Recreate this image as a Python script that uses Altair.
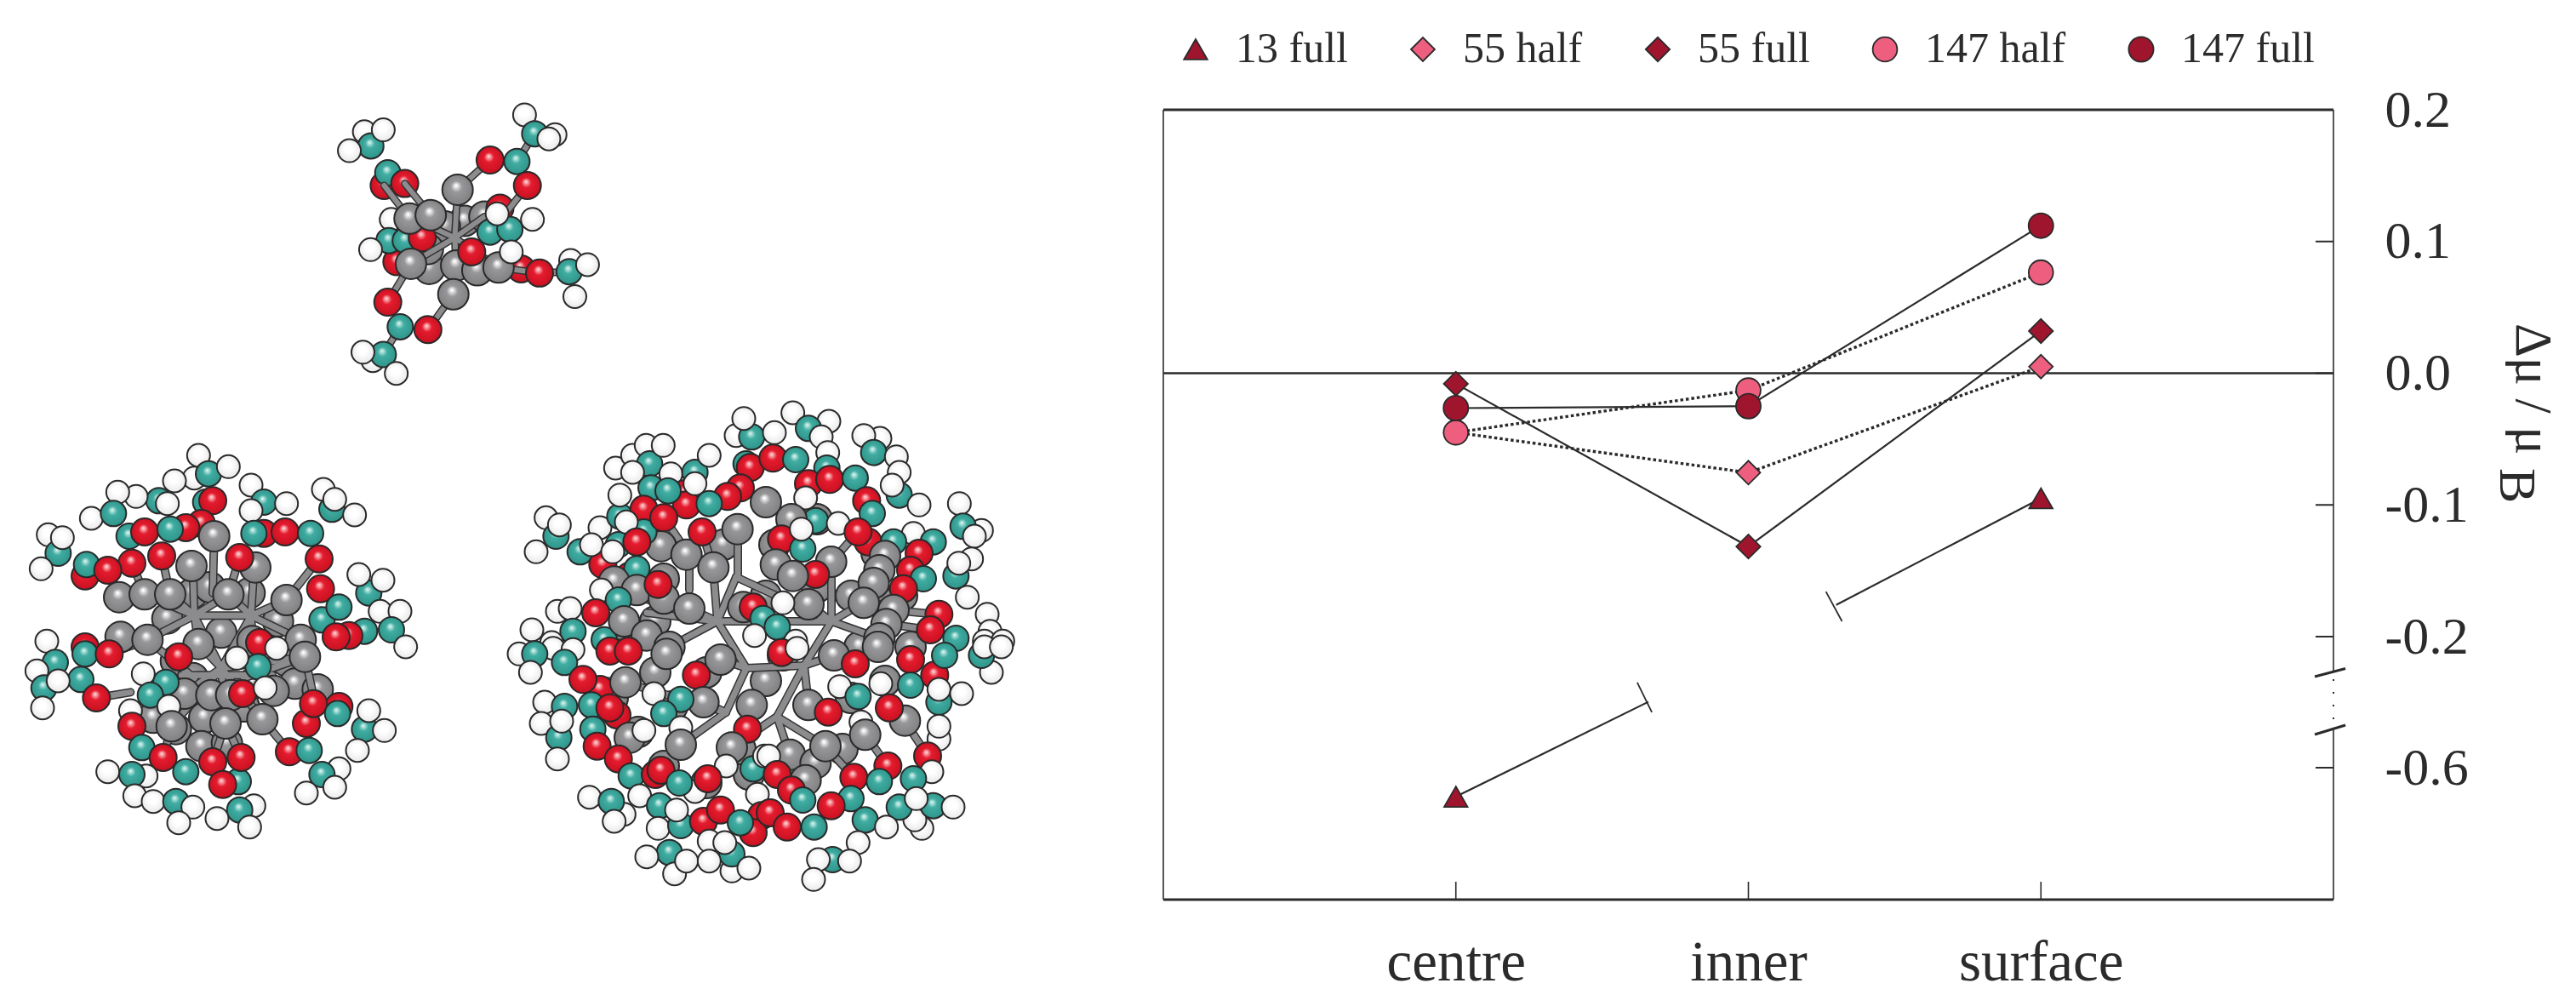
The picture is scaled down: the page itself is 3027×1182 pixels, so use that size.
import altair as alt
import pandas as pd

# ---------- chart values ----------
SERIES = ["13 full", "55 half", "55 full", "147 half", "147 full"]
SERIES_FILL = ["#A0152E", "#EE5F7F", "#A0152E", "#EE5F7F", "#A0152E"]
SERIES_SHAPE = ["triangle-up", "diamond", "diamond", "circle", "circle"]
SERIES_SIZE = [760, 850, 850, 580, 580]
SERIES_EDGE = ["#2a2a2a"] * 5

P_SERIES = ["13 full", "13 full", "55 half", "55 half", "55 half", "55 full", "55 full", "55 full",
            "147 half", "147 half", "147 half", "147 full", "147 full", "147 full"]
P_X = [1, 3, 1, 2, 3, 1, 2, 3, 1, 2, 3, 1, 2, 3]
P_Y = [-0.622, -0.095, -0.045, -0.0755, 0.005, -0.008, -0.1316, 0.032,
       -0.045, -0.013, 0.0765, -0.0265, -0.025, 0.112]

BROKEN_A_X = [1, 1.658]
BROKEN_A_Y = [-0.622, -0.399]
BROKEN_B_X = [3, 2.30]
BROKEN_B_Y = [-0.095, -0.1759]
END_TICK_X = [1.62, 2.265]
END_TICK_X2 = [1.67, 2.32]
END_TICK_Y = [-0.340, -0.1658]
END_TICK_Y2 = [-0.431, -0.1884]

X_TICKS = [1, 2, 3]
X_NAMES = ["centre", "inner", "surface"]
Y_LABELS = [-0.6, -0.2, -0.1, 0.0, 0.1, 0.2]
Y_TICKS = [-0.6, -0.2, -0.1, 0.0, 0.1]

# ---------- molecule values (back to front) ----------
A_BACK = [("H",145,105),("T",168,155),("H",92,172),("H",212,98),("R",215,295),("T",228,250),("R",288,288),
 ("H",240,415),("G",500,420),("G",430,440),("G",570,405),("R",625,375),("G",375,590),("R",260,565),("G",370,520),
 ("T",232,490),("T",290,490),("H",167,522),("R",700,590),("R",350,480)]
A_FRONT = [("G",305,412),("G",380,400),("G",475,310),("R",590,205),("H",712,45),("T",748,112),("H",820,115),("H",798,130),("T",685,210),
 ("R",722,295),("T",590,460),("T",660,450),("H",615,395),("H",740,415),("G",470,578),("G",545,595),("G",620,585),
 ("G",310,572),("H",875,560),("R",765,605),("T",870,600),("H",935,575),("H",890,688),("R",525,530),("H",665,530),
 ("G",460,680),("R",228,708),("T",272,795),("R",370,805),("H",175,915),("T",212,893),("H",140,885),("H",258,960)]
A_BONDS = [(465,480,475,310),(465,480,310,572),(465,480,380,440),(465,480,570,405),(465,480,470,578),
 (465,480,620,585),(590,205,475,310),(228,708,310,572),(370,805,460,680),(288,288,380,400),(215,295,305,412),
 (722,295,640,400),(765,605,620,585),(590,205,685,210),(870,600,765,605),(685,210,748,112),(272,795,212,893)]

B_CORE = [("G",620,560),("G",820,560),("G",680,540),("G",530,650),("G",920,660),("G",720,700),("G",560,800),("G",620,860),
 ("G",830,880),("G",950,800),("G",980,880),("G",660,1000),("G",800,960),("G",480,1000),("G",650,1100),("G",740,1090),("G",1060,900),("G",560,1040)]
B_ATOMS = [("H",625,155),("H",640,75),("T",675,140),("H",745,115),("T",665,240),("H",555,165),("T",500,235),("H",420,220),
 ("H",355,205),("H",262,297),("T",340,280),("H",530,245),("H",825,180),("T",870,240),("H",950,245),("H",825,270),
 ("H",1080,195),("T",1110,265),("H",1120,230),("H",1190,285),("R",690,235),("R",650,315),("R",595,330),
 ("T",395,360),("R",450,345),("T",540,335),("R",870,350),("T",835,350),("R",945,345),("T",1035,350),
 ("H",110,355),("T",145,420),("H",160,365),("H",85,475),("R",240,500),("T",245,460),("R",405,455),("R",320,480),
 ("G",695,360),("G",615,465),("R",510,430),("G",840,470),("R",785,435),("R",1065,440),
 ("G",360,575),("G",450,565),("G",540,565),("G",745,565),("G",950,585),("R",1070,545),
 ("T",1240,560),("H",1205,495),("H",1290,515),("T",1075,655),("T",1135,610),("H",1280,625),("H",1350,625),
 ("T",1320,690),("H",1370,750),("T",1225,695),("R",1170,710),("R",1125,715),
 ("G",365,715),("G",460,725),("G",640,740),("G",830,730),("G",1000,725),("G",1015,785),
 ("R",240,750),("T",240,775),("R",325,775),("H",105,730),("T",135,805),("H",70,835),("T",95,895),("T",225,865),
 ("H",145,870),("H",90,965),("R",280,930),("G",590,915),("G",685,920),("G",755,920),("G",905,905),
 ("R",855,735),("T",850,820),("H",915,755),("H",775,790),("R",795,915),("H",875,895),
 ("R",570,785),("T",525,875),("H",445,845),("T",470,920),("H",535,960),("H",400,975),
 ("R",1135,960),("R",1020,1020),("R",1045,950),("T",1130,985),("T",1225,1040),("H",1240,975),("H",1295,1045),("H",1200,1115),
 ("G",545,1030),("G",735,1020),("G",865,1005),("R",405,1030),("T",440,1105),("H",455,1205),("H",320,1190),("T",405,1200),("H",415,1275),
 ("T",780,1225),("R",515,1140),("T",595,1190),("R",790,1140),("R",690,1155),("R",725,1235),
 ("H",480,1295),("T",560,1295),("H",620,1315),("H",570,1370),("H",835,1310),("T",785,1325),("H",705,1355),("H",820,1385),
 ("R",960,1120),("T",1030,1115),("H",1135,1180),("T",1075,1200),("H",1020,1265),("H",1120,1245)]
B_BONDS = [(625,640,540,565),(625,640,620,480),(825,640,835,480),(825,640,950,585),(625,640,825,640),(625,640,460,725),
 (825,640,1000,725),(720,825,625,640),(720,825,825,640),(720,825,590,915),(720,825,735,1020),(720,825,1015,785),
 (720,825,865,1005),(695,360,690,560),(1015,785,1040,900),(865,1005,960,1120),(735,1020,790,1140),(735,1020,690,1155),
 (545,1030,515,1140),(280,930,400,910),(325,775,460,725),(510,430,540,565),(785,435,745,565),(625,640,745,565),
 (825,640,745,565),(625,640,640,740),(825,640,830,730),(720,825,640,740),(720,825,830,730),(450,565,625,640),
 (360,575,320,480),(450,565,405,455),(950,585,1065,440),(720,825,545,1030),(1015,785,800,860),(460,725,625,860),(580,850,900,850)]

LARGE_CORE = [("G",780,680),("G",850,640),("G",910,640),("G",960,610),("G",1030,650),("G",1060,700),("G",1070,760),("G",1040,800),
 ("G",1000,820),("G",990,880),("G",940,900),("G",880,910),("G",830,920),("G",780,900),("G",750,860),("G",720,820),("G",740,740),
 ("G",770,790),("G",900,700),("G",920,770),("G",900,800),("G",830,790),("G",790,830),("G",960,690),("G",1010,760),("G",870,880),
 ("G",770,730),("G",900,590),("G",1000,700)]
C_ATOMS = [("H",125,445),("T",160,510),("H",90,565),("H",172,470),("T",245,565),("H",315,480),("T",385,440),("H",385,365),
 ("H",370,270),("H",430,225),("H",478,190),("T",490,255),("H",538,190),("H",430,285),("T",495,340),("H",565,290),
 ("R",615,360),("R",620,400),("T",650,285),("H",700,225),("H",650,325),("H",795,155),("T",850,160),("H",822,95),
 ("T",830,255),("R",845,268),("R",810,340),("T",555,350),("R",470,415),("R",765,370),("T",700,395),
 ("G",530,545),("T",470,495),("T",380,540),("H",408,460),("R",445,530),("R",325,610),("H",285,540),("H",360,565),
 ("G",620,575),("R",540,445),("G",800,485),("R",675,495),("G",715,620),("R",420,650),("T",445,625),
 ("G",365,670),("G",445,700),("G",540,730),("H",320,700),("R",520,680),("T",380,735),("G",630,765),
 ("H",165,775),("H",210,765),("T",220,845),("R",300,780),("T",330,875),("H",145,885),("H",75,840),
 ("G",400,810),("G",480,860),("G",560,900),("G",820,760),("R",855,760),("T",890,800),("H",860,860)]
D_ATOMS = [("H",95,75),("H",222,105),("T",150,130),("H",195,160),("H",30,145),("R",25,235),("T",105,240),("H",218,215),("T",215,270),
 ("H",402,165),("H",345,155),("T",380,215),("H",460,230),("H",470,285),("R",150,325),("R",225,310),("T",315,305),
 ("T",470,365),("H",445,330),("H",540,400),("R",355,385),("T",375,430),("H",140,375),("T",175,455),("H",255,465),
 ("G",90,450),("R",360,530),("R",325,495),("G",230,600),("R",55,520),("T",130,555),("H",125,485),("R",175,645),
 ("G",35,610),("G",95,650),("G",150,750),("H",60,745),("T",40,830),("H",105,880),
 ("H",520,500),("T",450,530),("H",760,490),("H",682,395),("T",695,475),("H",735,510),("T",590,530),("R",540,570),
 ("G",420,580),("G",400,630),("R",510,630),("H",725,590),("T",670,650),("T",555,660),("H",680,605),("H",710,725),
 ("G",380,675),("R",485,695),("G",345,745),("G",450,770),("G",425,820),("G",400,870),("R",610,785),("R",580,840),
 ("H",780,785),("H",790,845),("T",670,870),("H",770,880),("H",835,880)]
E_ATOMS = [("H",30,25),("H",150,5),("H",220,10),("T",85,25),("T",190,55),("H",70,90),("R",315,150),("R",255,115),("G",405,125),
 ("R",350,15),("R",415,15),("G",550,25),("G",740,45),("R",655,100),("H",120,195),("T",190,210),("H",108,270),("T",170,320),
 ("T",285,205),("H",180,262),("H",165,395),("T",290,290),("R",375,240),("R",350,215),("G",420,320),("R",305,350),("R",380,395),
 ("G",680,195),("T",600,185),("H",505,165),("T",540,235),("H",470,295),("H",600,285),("G",850,205),("R",835,290),
 ("G",600,345),("G",780,355),("T",855,430),("H",760,420),("H",895,385),("H",870,520),("T",425,455),("H",278,530),
 ("H",400,590),("T",355,545),("H",365,615),("H",455,525),("R",510,450),("R",530,435),("H",650,510),("T",595,480),("R",695,465),
 ("T",525,560),("H",520,640),("T",600,630),("H",585,575),("T",560,725),("H",480,740),("H",578,800),("H",620,755),
 ("R",680,615),("R",740,575),("R",885,595),("R",855,655),("T",810,620),("H",700,685),("H",780,790),("T",780,730),("H",755,690),("H",700,755),("H",840,780)]
F_ATOMS = [("R",55,20),("H",110,5),("G",240,30),("G",395,0),("R",315,60),("H",260,140),("T",325,175),("H",405,130),
 ("G",150,205),("R",220,230),("H",335,265),("G",490,260),("R",435,215),("R",510,45),("T",510,135),("G",350,310),
 ("G",85,380),("H",10,385),("G",175,410),("G",210,350),("G",140,470),("R",40,450),("R",595,100),("T",610,195),("H",610,150),("H",690,165),
 ("H",795,90),("T",630,30),("T",760,30),("H",770,0),("H",830,0),("H",610,325),("H",610,280),("R",570,385),("R",430,420),
 ("H",585,440),("T",520,465),("R",310,460),("T",400,475),("H",550,640),("H",525,610),("T",590,560),("T",470,565),("H",530,535),("H",660,565),
 ("T",300,535),("T",350,610),("H",425,635),("H",325,690),("R",90,505),("T",130,540),("R",230,560),("R",15,585),("R",75,635),
 ("T",170,635),("T",235,750),("H",295,755),("H",185,750),("H",168,820)]
LARGE_BONDS = [(843,730,810,715),(843,730,838,667),(843,730,787,760),(843,730,877,785),(877,785,853,837),(877,785,945,782),
 (945,782,913,842),(945,782,977,730),(843,730,977,730),(977,730,977,660),(977,730,950,710),(977,730,1015,708),(977,730,1033,750),
 (945,782,980,770),(945,782,950,828),(913,842,970,877),(913,842,860,878),(913,842,928,887),(853,837,800,875),(853,837,827,825),
 (853,837,735,802),(877,785,847,775),(867,622,867,678),(810,652,810,693),(970,877,1003,913),(1017,863,1043,900),(1063,847,1090,888),
 (735,802,685,798),(1015,708,1062,692),(1050,717,1103,722),(1042,733,1093,740),(810,715,773,687),(838,667,825,625),(810,652,780,608),
 (977,660,1008,625),(843,730,865,678),(865,678,977,730),(740,700,810,715),(760,720,843,730),(720,745,787,760)]

PANELS = {"A": (380, 120, 3.012), "B": (20, 510, 3.0), "C": (600, 460, 3.0),
          "D": (900, 460, 3.0), "E": (600, 760, 3.0), "F": (900, 760, 3.0), "P": (0, 0, 1.0)}
ATOM_DIAM = {"G": 36, "R": 32, "T": 30, "H": 27}


def grad(edge, mid, hi):
    return {"gradient": "radial", "x1": 0.45, "y1": 0.36, "r1": 0.02, "x2": 0.5, "y2": 0.5, "r2": 0.56,
            "stops": [{"offset": 0, "color": hi}, {"offset": 0.3, "color": mid}, {"offset": 1, "color": edge}]}


ATOM_FILL = {"G": ("#7d7c7e", "#979698", "#ffffff"), "R": ("#c4101f", "#e41b2e", "#ffd0d0"),
             "T": ("#2c9187", "#40aca1", "#d4f2ee"), "H": ("#e6e6e6", "#ffffff", "#ffffff")}


def atoms(rows, panel):
    ox, oy, k = PANELS[panel]
    out = []
    for t, x, y in rows:
        out.append({"px": ox + x / k, "py": oy + y / k, "fillv": grad(*ATOM_FILL[t]), "s": ATOM_DIAM[t] ** 2})
    return out


def bonds(rows, panel=None):
    ox, oy, k = PANELS[panel] if panel else (0, 0, 1)
    return pd.DataFrame([{"px": ox + a / k, "py": oy + b / k, "px2": ox + c / k, "py2": oy + d / k} for a, b, c, d in rows])


W, H = 3011, 1166
page_x = alt.Scale(domain=[8, 3019], range=[0, W], zero=False, nice=False)
page_y = alt.Scale(domain=[8, 1174], range=[0, H], zero=False, nice=False)
x_sc = alt.Scale(domain=[0, 4], range=[1359, 2734], zero=False, nice=False)
y_sc = alt.Scale(domain=[-0.7, -0.6, -0.2, 0.2], range=[1049, 894, 740, 121], zero=False, nice=False)
FONT = "Liberation Serif"
INK = "#2b2b2b"


def atom_layer(rows):
    return alt.Chart(alt.Data(values=rows)).mark_point(filled=True, shape="circle", stroke="#2a2a2a", strokeWidth=2, opacity=1).encode(
        x=alt.X("px:Q", scale=page_x, axis=None),
        y=alt.Y("py:Q", scale=page_y, axis=None),
        fill=alt.Fill("fillv:N", scale=None, legend=None),
        size=alt.Size("s:Q", scale=None, legend=None),
    )


def bond_layer(df, width, colour):
    return alt.Chart(df).mark_rule(strokeWidth=width, stroke=colour, strokeCap="round").encode(
        x=alt.X("px:Q", scale=page_x, axis=None), y=alt.Y("py:Q", scale=page_y, axis=None),
        x2="px2:Q", y2="py2:Q")


layers = []
bb = pd.concat([bonds(B_BONDS, "B"), bonds(LARGE_BONDS)], ignore_index=True)
layers.append(atom_layer(atoms(A_BACK, "A")))
ab = bonds(A_BONDS, "A")
layers += [bond_layer(ab, 9, "#333333"), bond_layer(ab, 6, "#8c8b8d")]
layers.append(atom_layer(atoms(A_FRONT, "A")))
layers.append(atom_layer(atoms(B_CORE, "B") + atoms(LARGE_CORE, "P")))
layers += [bond_layer(bb, 10, "#333333"), bond_layer(bb, 7, "#8c8b8d")]
layers.append(atom_layer(atoms(B_ATOMS, "B")))
layers.append(atom_layer(atoms(C_ATOMS, "C") + atoms(D_ATOMS, "D") + atoms(E_ATOMS, "E") + atoms(F_ATOMS, "F")))


def xq(f="x"):
    return alt.X(f"{f}:Q", scale=x_sc, axis=None)


def yq(f="y"):
    return alt.Y(f"{f}:Q", scale=y_sc, axis=None)


def hline(y, w, x0=0, x1=4):
    return alt.Chart(pd.DataFrame({"x": [x0], "x2": [x1], "y": [y]})).mark_rule(stroke=INK, strokeWidth=w).encode(x=xq(), x2="x2:Q", y=yq())


def vline(x, y0, y1, w=1.6, **kw):
    return alt.Chart(pd.DataFrame({"x": [x], "y": [y0], "y2": [y1]})).mark_rule(stroke=INK, strokeWidth=w, **kw).encode(x=xq(), y=yq(), y2="y2:Q")


def seg(x0, y0, x1, y1, w=2.2):
    return alt.Chart(pd.DataFrame({"x": [x0], "x2": [x1], "y": [y0], "y2": [y1]})).mark_rule(stroke=INK, strokeWidth=w).encode(x=xq(), x2="x2:Q", y=yq(), y2="y2:Q")


# axes (labels only; the ticks point inward and are drawn below)
axis_layer = alt.Chart(pd.DataFrame({"x": X_TICKS, "y": [0, 0, 0]})).mark_point(opacity=0).encode(
    x=alt.X("x:Q", scale=x_sc, axis=alt.Axis(orient="bottom", values=X_TICKS, grid=False, domain=False, ticks=False, title=None,
            labelFont=FONT, labelFontSize=67, labelColor=INK, labelPadding=41, offset=-(H - 1049), labelLimit=500, labelOverlap=False,
            labelExpr="datum.value == 1 ? '" + X_NAMES[0] + "' : datum.value == 2 ? '" + X_NAMES[1] + "' : '" + X_NAMES[2] + "'")),
    y=alt.Y("y:Q", scale=y_sc, axis=alt.Axis(orient="right", values=Y_LABELS, grid=False, domain=False, ticks=False, title=None,
            labelFont=FONT, labelFontSize=62, labelColor=INK, labelAlign="left", labelPadding=60, offset=-(W - 2734), labelOverlap=False,
            labelExpr="replace(format(datum.value, '.1f'), '\u2212', '-')")),
)
layers.append(axis_layer)

layers += [hline(0.2, 3), hline(-0.7, 3), hline(0.0, 2.4), vline(0, -0.7, 0.2), vline(4, -0.3065, 0.2), vline(4, -0.7, -0.486),
           vline(4, -0.33, -0.47, 2, strokeDash=[2, 13]),
           seg(3.936, -0.322, 4.041, -0.2975, 3), seg(3.936, -0.4987, 4.041, -0.47, 3)]

layers.append(alt.Chart(pd.DataFrame({"x": X_TICKS})).mark_rule(stroke=INK, strokeWidth=1.6).encode(
    x=xq(), y=alt.value(1028), y2=alt.value(1049)))
layers.append(alt.Chart(pd.DataFrame({"y": Y_TICKS})).mark_rule(stroke=INK, strokeWidth=2).encode(
    y=yq(), x=alt.value(2713), x2=alt.value(2734)))

pts = pd.DataFrame({"series": P_SERIES, "x": P_X, "y": P_Y})
full = pts[pts.series.isin(["55 full", "147 full"])]
half = pts[pts.series.isin(["55 half", "147 half"])]
layers.append(alt.Chart(full).mark_line(stroke=INK, strokeWidth=2.2).encode(x=xq(), y=yq(), detail="series:N"))
layers.append(alt.Chart(half).mark_line(stroke=INK, strokeWidth=3.4, strokeDash=[3.5, 3]).encode(x=xq(), y=yq(), detail="series:N"))
for bx, by in ((BROKEN_A_X, BROKEN_A_Y), (BROKEN_B_X, BROKEN_B_Y)):
    layers.append(alt.Chart(pd.DataFrame({"x": bx, "y": by})).mark_line(stroke=INK, strokeWidth=2.2).encode(x=xq(), y=yq()))
for i in range(2):
    layers.append(seg(END_TICK_X[i], END_TICK_Y[i], END_TICK_X2[i], END_TICK_Y2[i], 1.8))

legend = alt.Legend(orient="none", legendX=1372, legendY=25, direction="horizontal", title=None, padding=0,
                    labelFont=FONT, labelFontSize=50, labelColor=INK, columnPadding=63, labelOffset=22,
                    symbolStrokeWidth=1.8, labelLimit=400)
layers.append(alt.Chart(pts).mark_point(filled=True, strokeWidth=1.8, opacity=1).encode(
    x=xq(), y=yq(),
    fill=alt.Fill("series:N", scale=alt.Scale(domain=SERIES, range=SERIES_FILL), legend=legend),
    shape=alt.Shape("series:N", scale=alt.Scale(domain=SERIES, range=SERIES_SHAPE), legend=legend),
    size=alt.Size("series:N", scale=alt.Scale(domain=SERIES, range=SERIES_SIZE), legend=legend),
    stroke=alt.Stroke("series:N", scale=alt.Scale(domain=SERIES, range=SERIES_EDGE), legend=legend),
))

layers.append(alt.Chart(pd.DataFrame({"t": ["\u0394\u03bc / \u03bc"]})).mark_text(
    font=FONT, fontSize=62, angle=90, align="left", baseline="alphabetic", color=INK).encode(
    x=alt.value(2949), y=alt.value(372), text="t:N"))
layers.append(alt.Chart(pd.DataFrame({"t": ["B"]})).mark_text(
    font=FONT, fontSize=62, angle=90, align="left", baseline="alphabetic", color=INK).encode(
    x=alt.value(2930), y=alt.value(542), text="t:N"))

chart = alt.layer(*layers).resolve_scale(x="independent", y="independent", fill="independent", size="independent", shape="independent", stroke="independent").properties(
    width=W, height=H, padding=0, background="white", autosize=alt.AutoSizeParams(type="none")
).configure_view(stroke=None)

chart.save("out.html", embed_options={"renderer": "svg", "actions": False})
